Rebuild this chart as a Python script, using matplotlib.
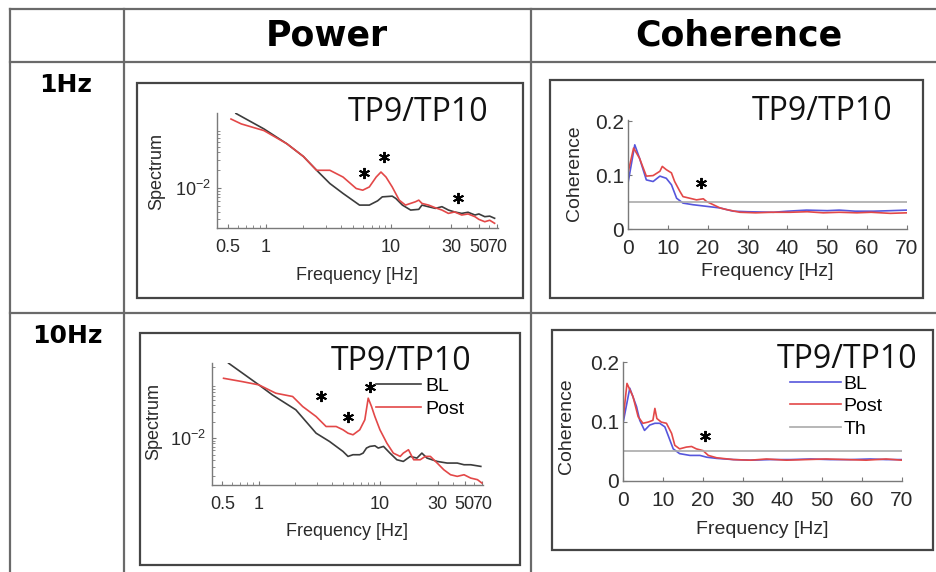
import matplotlib.pyplot as plt
from matplotlib.lines import Line2D
from matplotlib.patches import Rectangle
from matplotlib.ticker import LogLocator, NullFormatter, FixedLocator, FixedFormatter

# ---- data ----
# 1Hz, power spectrum
p1_bl_f = [0.58, 0.97, 1.48, 2.0, 2.55, 3.25, 4.14, 5.6, 6.7, 7.8, 8.5, 10.2, 10.9, 12.3,
           14.3, 16.6, 17.6, 19.9, 22.5, 25.4, 28.6, 32, 36.5, 41, 46.5, 50, 55.7, 61, 66.7]
p1_bl_v = [0.180, 0.0989, 0.0556, 0.0341, 0.0200, 0.0120, 0.00817, 0.00521, 0.00521, 0.00614,
           0.00716, 0.00736, 0.00673, 0.00521, 0.00430, 0.00442, 0.00521, 0.00488, 0.00459,
           0.00490, 0.00430, 0.00400, 0.00378, 0.00395, 0.00355, 0.00370, 0.00333, 0.00340,
           0.00313]
p1_post_f = [0.53, 0.64, 0.97, 1.48, 2.0, 2.55, 3.25, 4.14, 5.27, 5.94, 6.7, 7.6, 8.3, 9.1,
             10.2, 11.6, 13.0, 15.6, 16.6, 17.6, 19.9, 22.5, 25.4, 28.6, 32, 36.5, 41, 46.5,
             50, 55.7, 61, 66.7]
p1_post_v = [0.145, 0.120, 0.0927, 0.0556, 0.0341, 0.0200, 0.0200, 0.0154, 0.00989, 0.00927,
             0.0105, 0.0154, 0.0187, 0.0154, 0.0105, 0.00631, 0.00521, 0.00592, 0.00631,
             0.00556, 0.00521, 0.00470, 0.00430, 0.00378, 0.00400, 0.00355, 0.00370, 0.00333,
             0.00300, 0.00274, 0.00290, 0.00258]
p1_star_f = [6.1, 8.8, 34.3]
p1_star_v = [0.0178, 0.0329, 0.00681]

# 10Hz, power spectrum
p10_bl_f = [0.562, 1.0, 1.29, 2.02, 2.97, 3.83, 4.95, 5.45, 5.99, 6.81, 7.26, 7.74, 8.25,
            9.08, 9.68, 10.7, 12.1, 13.8, 15.6, 17.8, 20.2, 22.2, 24.5, 29.7, 35.9, 43.5,
            49.5, 56.2, 68.1]
p10_bl_v = [0.234, 0.0940, 0.0618, 0.0329, 0.0123, 0.00869, 0.00571, 0.00463, 0.00497,
            0.00497, 0.00532, 0.00658, 0.00705, 0.00725, 0.00658, 0.00705, 0.00532, 0.00402,
            0.00375, 0.00463, 0.00431, 0.00532, 0.00431, 0.00375, 0.00350, 0.00350, 0.00326,
            0.00326, 0.00304]
p10_post_f = [0.511, 0.726, 1.0, 1.38, 1.90, 2.30, 2.97, 3.59, 4.35, 4.95, 5.45, 5.99, 6.81,
              7.50, 8.0, 8.52, 9.08, 10.0, 11.4, 12.9, 14.7, 15.6, 17.2, 19.0, 21.5, 23.7,
              26.1, 29.7, 33.7, 38.3, 43.5, 49.5, 56.2, 63.9, 69.5]
p10_post_v = [0.124, 0.108, 0.0940, 0.0662, 0.0576, 0.0378, 0.0248, 0.0163, 0.0163, 0.0142,
              0.0123, 0.0115, 0.0142, 0.0216, 0.0537, 0.0378, 0.0248, 0.0142, 0.00811,
              0.00532, 0.00463, 0.00532, 0.00613, 0.00402, 0.00402, 0.00463, 0.00463,
              0.00350, 0.00264, 0.00214, 0.00200, 0.00214, 0.00186, 0.00174, 0.00151]
p10_star_f = [3.26, 5.45, 8.25]
p10_star_v = [0.0593, 0.0242, 0.0877]

# 1Hz, coherence
c1_bl_f = [0, 1.7, 2.9, 4.6, 6.3, 8.0, 9.6, 10.9, 12.2, 13.8, 16.3, 19.7, 23.1, 26.4, 30,
           36.5, 40, 44.8, 50, 53, 57, 61.6, 66, 70]
c1_bl_v = [0.085, 0.156, 0.131, 0.091, 0.088, 0.098, 0.094, 0.082, 0.057, 0.048, 0.045,
           0.042, 0.039, 0.033, 0.032, 0.031, 0.033, 0.035, 0.034, 0.035, 0.033, 0.033,
           0.034, 0.035]
c1_post_f = [0, 1.4, 2.9, 4.6, 6.3, 8.0, 8.6, 9.6, 10.9, 11.7, 13.0, 13.8, 15.5, 17.2, 18.9,
             19.7, 21.4, 23.1, 24.7, 28.1, 32, 36, 40.7, 45, 49, 53, 57.4, 61, 65.8, 70]
c1_post_v = [0.104, 0.150, 0.131, 0.098, 0.099, 0.107, 0.116, 0.110, 0.104, 0.088, 0.070,
             0.060, 0.057, 0.054, 0.056, 0.051, 0.045, 0.039, 0.036, 0.031, 0.030, 0.031,
             0.031, 0.032, 0.030, 0.031, 0.030, 0.031, 0.029, 0.030]
c1_star_f = [18.4]
c1_star_v = [0.085]

# 10Hz, coherence
c10_bl_f = [0, 1.7, 3.4, 4.2, 5.4, 6.7, 8.0, 9.2, 10.5, 11.3, 12.6, 14.2, 16.8, 19.3, 21,
            23.5, 27.7, 32, 37, 42, 47, 52, 57, 62, 66, 70]
c10_bl_v = [0.097, 0.156, 0.125, 0.102, 0.085, 0.094, 0.097, 0.097, 0.091, 0.077, 0.054,
            0.046, 0.043, 0.043, 0.040, 0.038, 0.036, 0.035, 0.036, 0.036, 0.037, 0.036,
            0.036, 0.037, 0.036, 0.036]
c10_post_f = [0, 1.0, 2.5, 3.8, 5.0, 6.3, 7.5, 8.0, 8.5, 9.6, 10.9, 12.2, 13.0, 14.2, 15.9,
              17.2, 18.4, 20.1, 21.4, 23.5, 27.7, 32, 36, 41, 46, 51, 56, 61, 66, 70]
c10_post_v = [0.102, 0.164, 0.142, 0.108, 0.097, 0.099, 0.102, 0.122, 0.105, 0.099, 0.097,
              0.080, 0.060, 0.054, 0.057, 0.058, 0.054, 0.051, 0.043, 0.039, 0.036, 0.035,
              0.037, 0.035, 0.036, 0.037, 0.036, 0.035, 0.037, 0.035]
c10_star_f = [20.5]
c10_star_v = [0.075]

threshold = 0.05
pow_ticks = [0.5, 1, 10, 30, 50, 70]
pow_ticklabels = ['0.5', '1', '10', '30', '50', '70']
coh_xticks = [0, 10, 20, 30, 40, 50, 60, 70]
coh_yticks = [0, 0.1, 0.2]
col_titles = ['Power', 'Coherence']
row_titles = ['1Hz', '10Hz']

BL_BLACK = '#3c3c3c'
RED = '#e34848'
BLUE = '#5656dc'
GRAY = '#aaaaaa'
AX_GRAY = '#7a7a7a'
TXT = '#2a2a2a'

W, H = 937, 572
fig = plt.figure(figsize=(W / 100, H / 100), dpi=100)
fig.patch.set_facecolor('white')


def px(x, y):
    return x / W, 1 - y / H


def ax_at(l, t, r, b):
    return fig.add_axes([l / W, 1 - b / H, (r - l) / W, (b - t) / H])


# table grid
for y in [9, 62, 313]:
    fig.add_artist(Line2D([10 / W, 1], [1 - y / H] * 2, color='#6a6a6a', lw=1.6))
for x in [10, 124, 531]:
    fig.add_artist(Line2D([x / W] * 2, [1 - 9 / H, 0], color='#6a6a6a', lw=1.6))

fig.text(*px(327, 36), col_titles[0], ha='center', va='center', fontsize=25,
         fontweight='bold', family='DejaVu Sans')
fig.text(*px(739, 36), col_titles[1], ha='center', va='center', fontsize=25,
         fontweight='bold', family='DejaVu Sans')
fig.text(*px(66, 85), row_titles[0], ha='center', va='center', fontsize=18,
         fontweight='bold', family='DejaVu Sans')
fig.text(*px(67, 336), row_titles[1], ha='center', va='center', fontsize=18,
         fontweight='bold', family='DejaVu Sans')

# panel frames
for (l, t, r, b) in [(137, 83, 523, 298), (550, 80, 923, 298), (140, 333, 520, 565), (552, 330, 933, 550)]:
    fig.add_artist(Rectangle((l / W, 1 - b / H), (r - l) / W, (b - t) / H, fill=False,
                             edgecolor='#454545', lw=1.6, transform=fig.transFigure))


def style(ax, fs):
    for s in ['top', 'right']:
        ax.spines[s].set_visible(False)
    for s in ['left', 'bottom']:
        ax.spines[s].set_color(AX_GRAY)
        ax.spines[s].set_linewidth(1.0)
    ax.tick_params(which='both', direction='in', color=AX_GRAY, labelcolor=TXT,
                   labelsize=fs)
    ax.tick_params(which='major', length=3)
    ax.tick_params(which='minor', length=2)
    ax.patch.set_alpha(0)
    for lab in ax.get_xticklabels() + ax.get_yticklabels():
        lab.set_family('Liberation Sans')


def power_panel(ax, bl_f, bl_v, post_f, post_v, sf, sv, ylim):
    ax.plot(bl_f, bl_v, color=BL_BLACK, lw=1.2, label='BL')
    ax.plot(post_f, post_v, color=RED, lw=1.2, label='Post')
    ax.plot(sf, sv, ls='none', marker=(6, 2, 0), ms=8, mew=1.4, color='k')
    ax.set_xscale('log')
    ax.set_yscale('log')
    ax.set_xlim(0.41, 71)
    ax.set_ylim(*ylim)
    ax.xaxis.set_major_locator(FixedLocator(pow_ticks))
    ax.xaxis.set_major_formatter(FixedFormatter(pow_ticklabels))
    ax.xaxis.set_minor_locator(LogLocator(subs=range(2, 10)))
    ax.xaxis.set_minor_formatter(NullFormatter())
    ax.yaxis.set_major_locator(FixedLocator([0.01]))
    ax.yaxis.set_minor_locator(LogLocator(subs=range(2, 10)))
    ax.yaxis.set_minor_formatter(NullFormatter())
    ax.tick_params(axis='x', pad=8)
    ax.tick_params(axis='y', pad=4)
    style(ax, 13)
    ax.set_xlabel('Frequency [Hz]', fontsize=13, family='Liberation Sans', color=TXT)
    ax.set_ylabel('Spectrum', fontsize=13, family='Liberation Sans', color=TXT)


def coh_panel(ax, bl_f, bl_v, post_f, post_v, sf, sv, top):
    ax.plot(bl_f, bl_v, color=BLUE, lw=1.2, label='BL')
    ax.plot(post_f, post_v, color=RED, lw=1.2, label='Post')
    ax.axhline(threshold, color=GRAY, lw=1.2, label='Th')
    ax.plot(sf, sv, ls='none', marker=(6, 2, 0), ms=8, mew=1.4, color='k')
    ax.set_xlim(0, 70)
    ax.set_ylim(0, top)
    ax.set_xticks(coh_xticks)
    ax.set_yticks(coh_yticks)
    ax.set_yticklabels(['0', '0.1', '0.2'])
    ax.tick_params(axis='x', pad=7)
    ax.tick_params(axis='y', pad=3)
    style(ax, 15)
    ax.set_xlabel('Frequency [Hz]', fontsize=14, family='Liberation Sans', color=TXT)
    ax.set_ylabel('Coherence', fontsize=14, family='Liberation Sans', color=TXT)


ax1 = ax_at(217, 113, 498, 228)
power_panel(ax1, p1_bl_f, p1_bl_v, p1_post_f, p1_post_v, p1_star_f, p1_star_v, (0.00215, 0.183))
ax1.xaxis.set_label_coords(0.5, -0.34)
ax1.yaxis.set_label_coords(-0.185, 0.49)

ax2 = ax_at(628, 120, 907, 229)
coh_panel(ax2, c1_bl_f, c1_bl_v, c1_post_f, c1_post_v, c1_star_f, c1_star_v, 0.202)
ax2.xaxis.set_label_coords(0.5, -0.31)
ax2.yaxis.set_label_coords(-0.162, 0.51)

ax3 = ax_at(212, 363, 483, 485)
power_panel(ax3, p10_bl_f, p10_bl_v, p10_post_f, p10_post_v, p10_star_f, p10_star_v, (0.00139, 0.236))
ax3.xaxis.set_label_coords(0.5, -0.31)
ax3.yaxis.set_label_coords(-0.185, 0.52)
ax3.legend(loc='upper left', bbox_to_anchor=(0.605, 0.88), frameon=False,
           handlelength=2.3, handletextpad=0.25, labelspacing=0.25, borderpad=0,
           borderaxespad=0, prop={'family': 'Liberation Sans', 'size': 14})

ax4 = ax_at(623, 362, 902, 481)
coh_panel(ax4, c10_bl_f, c10_bl_v, c10_post_f, c10_post_v, c10_star_f, c10_star_v, 0.2)
ax4.xaxis.set_label_coords(0.5, -0.34)
ax4.yaxis.set_label_coords(-0.173, 0.46)
ax4.legend(loc='upper left', bbox_to_anchor=(0.6, 0.89), frameon=False,
           handlelength=2.6, handletextpad=0.15, labelspacing=0.25, borderpad=0,
           borderaxespad=0, prop={'family': 'Liberation Sans', 'size': 14})

# channel titles
for (x, y) in [(418, 113), (822, 112), (401, 362), (847, 359)]:
    fig.text(*px(x, y), 'TP9/TP10', ha='center', va='center', fontsize=23,
             family='Open Sans', color='#111111')

fig.savefig('out.png', dpi=100)
